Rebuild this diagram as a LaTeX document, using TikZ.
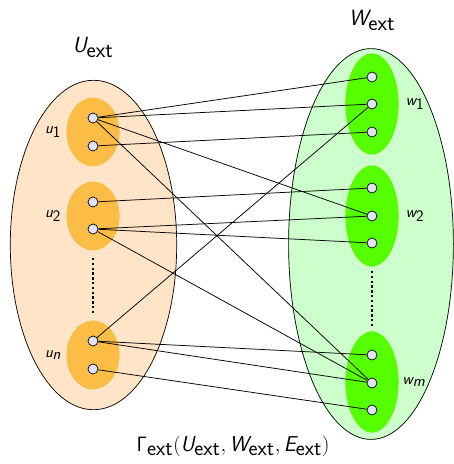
\documentclass[tikz,border=0pt]{standalone}
\newcommand{\sv}[1]{\textsf{\itshape #1}}
\newcommand{\su}[1]{\textsf{#1}}
\begin{document}
\begin{tikzpicture}[x=1pt,y=-1pt,
  bigL/.style={fill={rgb,255:red,255;green,228;blue,200}},
  bigR/.style={fill={rgb,255:red,204;green,255;blue,204}},
  smL/.style={draw=white,fill={rgb,255:red,251;green,189;blue,69}},
  smR/.style={draw=white,fill={rgb,255:red,85;green,255;blue,0}},
  vtx/.style={circle,draw=black,fill={rgb,255:red,226;green,226;blue,248},inner sep=0pt,minimum size=10pt,line width=0.7pt},
  lab/.style={font=\fontsize{16}{18}\selectfont},
  ttl/.style={font=\fontsize{22}{26}\selectfont},
  edge/.style={draw=black,line width=0.75pt}]
\useasboundingbox (0,0) rectangle (454,464);
\fill[bigL] (93.5,245) ellipse [x radius=83.5, y radius=165];
\fill[bigR] (371,244) ellipse [x radius=83, y radius=196];
\draw[line width=0.7pt] (93.5,245) ellipse [x radius=83.2, y radius=164.7];
\draw[line width=0.7pt] (371,244) ellipse [x radius=82.4, y radius=195.4];
\foreach \y in {132,216,355} \filldraw[smL] (93,\y) ellipse [x radius=27, y radius=35];
\foreach \y in {104,216,382} \filldraw[smR] (372,\y) ellipse [x radius=27, y radius=51];
\draw[line width=2.4pt, dash pattern=on 2.4pt off 2.4pt] (93,258) -- (93,313);
\draw[line width=2.4pt, dash pattern=on 2.4pt off 2.4pt] (372,271) -- (372,328);
% vertices
\node[vtx] (u1a) at (93,118) {};
\node[vtx] (u1b) at (93,146) {};
\node[vtx] (u2a) at (93,202) {};
\node[vtx] (u2b) at (93,229) {};
\node[vtx] (una) at (93,341) {};
\node[vtx] (unb) at (93,369) {};
\node[vtx] (w1a) at (372,77) {};
\node[vtx] (w1b) at (372,104) {};
\node[vtx] (w1c) at (372,132) {};
\node[vtx] (w2a) at (372,188) {};
\node[vtx] (w2b) at (372,216) {};
\node[vtx] (w2c) at (372,243) {};
\node[vtx] (wma) at (372,355) {};
\node[vtx] (wmb) at (372,383) {};
\node[vtx] (wmc) at (372,410) {};
% edges
\foreach \a/\b in {u1a/w1a,u1a/w1b,u1a/w2b,u1a/wmb,u1b/w1c,u2a/w2a,u2b/w2b,u2b/w2c,u2b/wmb,una/w1b,una/wma,una/wmb,unb/wmc}
  \draw[edge] (\a) -- (\b);
% labels
\node[lab] (lu1) at (53,132) {$\sv{u}_{\su{1}}$};
\node[lab] (lu2) at (53,216) {$\sv{u}_{\su{2}}$};
\node[lab] (lun) at (53,355) {$\sv{u}_{\sv{n}}$};
\node[lab] (lw1) at (415,104) {$\sv{w}_{\su{1}}$};
\node[lab] (lw2) at (415,216) {$\sv{w}_{\su{2}}$};
\node[lab] (lwm) at (414,382) {$\sv{w}_{\sv{m}}$};
\node[ttl] (tU) at (93,47) {$\sv{U}_{\su{ext}}$};
\node[ttl] (tW) at (372,20) {$\sv{W}_{\su{ext}}$};
\node[ttl,font=\fontsize{21.5}{26}\selectfont] (cap) at (233,446) {$\mathsf{\Gamma}_{\su{ext}}(\sv{U}_{\su{ext}}, \sv{W}_{\su{ext}}, \sv{E}_{\su{ext}})$};
\end{tikzpicture}
\end{document}
